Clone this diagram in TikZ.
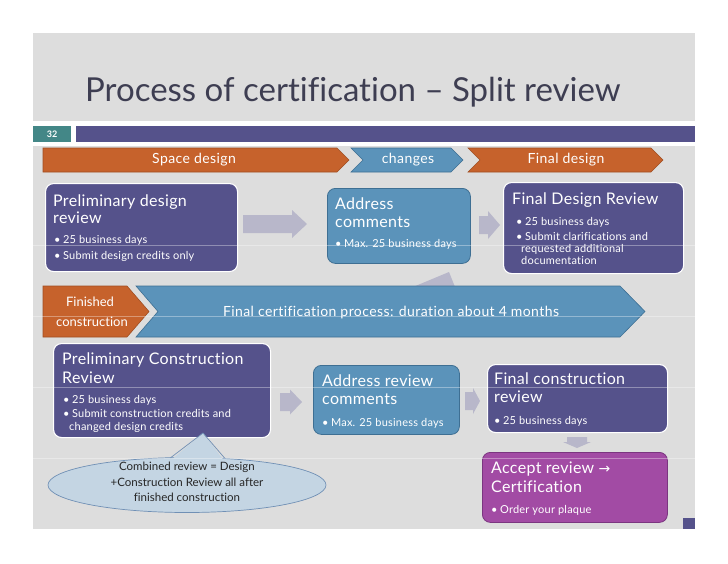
\documentclass[tikz,border=0pt]{standalone}
\usepackage{fontspec}
\usetikzlibrary{shapes.geometric}
\setmainfont{Lato}[RawFeature=-liga]
\newfontfamily\boxttl[LetterSpace=2,RawFeature=-liga]{Lato}
\newfontfamily\boxtxt[LetterSpace=2,RawFeature=-liga]{Lato}
\newfontfamily\chevfont[LetterSpace=3,RawFeature=-liga]{Lato}
\newfontfamily\chevnarrow[RawFeature=-liga]{Lato}
\newfontfamily\dejavu{DejaVu Sans}
\definecolor{bggray}{HTML}{DDDDDD}
\definecolor{ttlcol}{HTML}{3E3E52}
\definecolor{purp}{HTML}{55528B}
\definecolor{bluebox}{HTML}{5B93BA}
\definecolor{blueedge}{HTML}{3E6F93}
\definecolor{orng}{HTML}{C6622C}
\definecolor{orngedge}{HTML}{A04E22}
\definecolor{magen}{HTML}{A24BA4}
\definecolor{magenedge}{HTML}{7B3580}
\definecolor{tealc}{HTML}{438787}
\definecolor{arrgray}{HTML}{B8B7CA}
\definecolor{callfill}{HTML}{C4D5E3}
\definecolor{calledge}{HTML}{7090B5}
\tikzset{
  pbox/.style={draw=white, line width=1.1pt, fill=purp, rounded corners=8pt, anchor=north west, inner sep=0pt},
  bbox/.style={draw=blueedge, line width=0.8pt, fill=bluebox, rounded corners=8pt, anchor=north west, inner sep=0pt},
  mbox/.style={draw=magenedge, line width=0.8pt, fill=magen, rounded corners=8pt, anchor=north west, inner sep=0pt},
  orchev/.style={fill=orng, draw=orngedge, line width=0.6pt},
  blchev/.style={fill=bluebox, draw=blueedge, line width=0.6pt},
  chevtxt/.style={text=white, font=\chevfont\fontsize{14}{16}\selectfont, inner sep=0pt},
  fintxt/.style={text=white, font=\chevnarrow\fontsize{13}{15}\selectfont, inner sep=0pt},
  ttl/.style={text=white, font=\boxttl\fontsize{16}{18}\selectfont, anchor=base west, inner sep=0pt},
  btxt/.style={text=white, font=\boxtxt\fontsize{11}{13}\selectfont, anchor=base west, inner sep=0pt},
  blockarr/.style={fill=arrgray},
  calltxt/.style={text=black!85, font=\fontsize{11.5}{13}\selectfont, inner sep=0pt},
  faint/.style={draw=white, opacity=0.35, line width=0.6pt}
}
\newcommand\hblock[6]{%
  \fill[blockarr] (#1,#4-#5) -- (#2,#4-#5) -- (#2,#4-#6) -- (#3,#4) -- (#2,#4+#6) -- (#2,#4+#5) -- (#1,#4+#5) -- cycle;}
\begin{document}
\begin{tikzpicture}[x=1pt,y=-1pt]
\useasboundingbox (0,0) rectangle (728,563);
\fill[white] (0,0) rectangle (728,563);
\fill[bggray] (33,33) rectangle (695,529);
\fill[white] (33,121) rectangle (695,146);
% title
\node[anchor=base west, inner sep=0pt, text=ttlcol, font=\fontsize{33}{36}\selectfont] (title) at (85,101) {Process of certification – Split review};
% header bar
\fill[tealc] (33,125.5) rectangle (71,142);
\node[text=white, font=\bfseries\fontsize{9}{10}\selectfont, inner sep=0pt] (num) at (52,134) {32};
\fill[purp] (76,125.5) rectangle (695,142);

% row 1 chevrons
\path[orchev] (43,148) -- (337,148) -- (349,160) -- (337,172) -- (43,172) -- cycle;
\node[chevtxt] (space) at (194,160) {Space design};
\path[blchev] (351,148) -- (451,148) -- (463,160) -- (451,172) -- (351,172) -- (363,160) -- cycle;
\node[chevtxt] (changes) at (408,160) {changes};
\path[orchev] (468,148) -- (651,148) -- (663,160) -- (651,172) -- (468,172) -- (480,160) -- cycle;
\node[chevtxt] (fdes) at (566,160) {Final design};

% row 2 boxes
\node[pbox, minimum width=192pt, minimum height=88pt] (pdr) at (45,183) {};
\node[ttl] (pdr1) at (53,206) {Preliminary design};
\node[ttl] (pdr2) at (53,223) {review};
\node[btxt] (pdrb1) at (54,243) {•\hspace{2.5pt}25 business days};
\node[btxt] (pdrb2) at (54,259) {•\hspace{2.5pt}Submit design credits only};

\hblock{243}{292}{307}{224}{9}{14}

\node[bbox, minimum width=143pt, minimum height=75pt] (ac) at (327,188) {};
\node[ttl] (ac1) at (335,209) {Address};
\node[ttl] (ac2) at (335,227) {comments};
\node[btxt] (acb1) at (335,247) {•\hspace{2.5pt}Max. 25 business days};

\hblock{479}{488}{500}{225}{9}{14}

\node[pbox, minimum width=180pt, minimum height=91pt] (fdr) at (503,182) {};
\node[ttl] (fdr1) at (512,204) {Final Design Review};
\node[btxt] (fdrb1) at (516,225) {•\hspace{2.5pt}25 business days};
\node[btxt] (fdrb2) at (516,240) {•\hspace{2.5pt}Submit clarifications and};
\node[btxt] (fdrb3) at (521,252) {requested additional};
\node[btxt] (fdrb4) at (521,264) {documentation};

% hidden diagonal arrow tip
\fill[blockarr] (413,287) -- (449,272) -- (455,287) -- cycle;

% row 3 chevrons
\path[orchev] (43,286) -- (127,286) -- (149,311.5) -- (127,337) -- (43,337) -- cycle;
\node[fintxt] (fin1) at (90,302) {Finished};
\node[fintxt] (fin2) at (92,322) {construction};
\path[blchev] (136,286) -- (620,286) -- (645,311.5) -- (620,337) -- (136,337) -- (158,311.5) -- cycle;
\node[chevtxt] (fcp) at (391,313) {Final certification process: duration about 4 months};

% row 4 boxes
\node[pbox, minimum width=217pt, minimum height=94pt] (pcr) at (53,343) {};
\node[ttl] (pcr1) at (62,364) {Preliminary Construction};
\node[ttl] (pcr2) at (62,383) {Review};
\node[btxt] (pcrb1) at (63,403) {•\hspace{2.5pt}25 business days};
\node[btxt] (pcrb2) at (63,417) {•\hspace{2.5pt}Submit construction credits and};
\node[btxt] (pcrb3) at (69,430) {changed design credits};

\hblock{280}{290}{302}{402}{9}{12.5}

\node[bbox, minimum width=146pt, minimum height=69pt] (arc) at (313,365) {};
\node[ttl] (arc1) at (322,386) {Address review};
\node[ttl] (arc2) at (322,404) {comments};
\node[btxt] (arcb1) at (322,426) {•\hspace{2.5pt}Max. 25 business days};

\hblock{465}{473}{480}{401}{9}{13}

\node[pbox, minimum width=180pt, minimum height=68pt] (fcr) at (487,364) {};
\node[ttl] (fcr1) at (494,384) {Final construction};
\node[ttl] (fcr2) at (494,402) {review};
\node[btxt] (fcrb1) at (494,424) {•\hspace{2.5pt}25 business days};

% down arrow
\fill[blockarr] (567,437) -- (587,437) -- (587,442) -- (591,442) -- (577,448) -- (563,442) -- (567,442) -- cycle;

\node[mbox, minimum width=185pt, minimum height=70pt] (acc) at (482,452) {};
\node[ttl] (acc1) at (491,473) {Accept review {\dejavu\fontsize{14}{16}\selectfont →}};
\node[ttl] (acc2) at (491,492) {Certification};
\node[btxt] (accb1) at (491,513) {•\hspace{2.5pt}Order your plaque};

% callout
\node[draw=calledge, fill=callfill, line width=0.7pt, ellipse, minimum width=278pt, minimum height=55pt, inner sep=0pt] (call) at (187,485) {};
\fill[callfill] (170,461) -- (203,433) -- (225,462) -- cycle;
\draw[calledge, line width=0.7pt] (170.5,457.8) -- (203,433) -- (225,458.5);
\node[calltxt] (c1) at (187,467) {Combined review = Design};
\node[calltxt] (c2) at (187,482) {+Construction Review all after};
\node[calltxt] (c3) at (187,497) {finished construction};

% small corner square
\fill[purp] (683,518) rectangle (695,529);

% faint scan lines
\foreach \yy in {245,316,387,458} \draw[faint] (33,\yy) -- (712,\yy);
\end{tikzpicture}
\end{document}
